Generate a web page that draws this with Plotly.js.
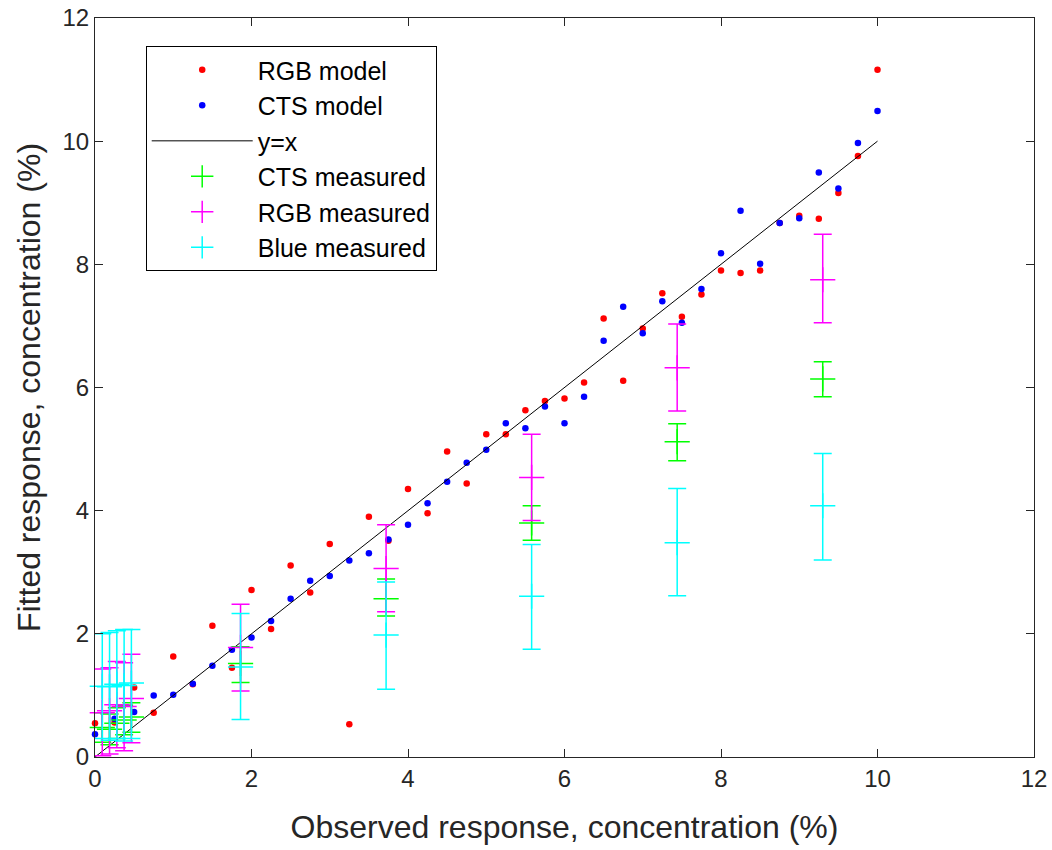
<!DOCTYPE html>
<html>
<head>
<meta charset="utf-8">
<script src="https://cdn.plot.ly/plotly-3.0.1.min.js"></script>
<style>
  html, body { margin: 0; padding: 0; background: #ffffff; }
  #chart { width: 1052px; height: 850px; }
</style>
</head>
<body>
<div id="chart"></div>
<script>
// Observed concentrations for the model points
var observedModel = [0, 0.25, 0.5, 0.75, 1, 1.25, 1.5, 1.75, 2, 2.25, 2.5, 2.75, 3, 3.25, 3.5, 3.75,
  4, 4.25, 4.5, 4.75, 5, 5.25, 5.5, 5.75, 6, 6.25, 6.5, 6.75, 7, 7.25, 7.5, 7.75,
  8, 8.25, 8.5, 8.75, 9, 9.25, 9.5, 9.75, 10];
var rgbModel = [0.55, 0.56, 1.13, 0.72, 1.63, 1.18, 2.13, 1.45, 2.71, 2.08, 3.11, 2.67, 3.46, 0.53, 3.90, 3.51,
  4.35, 3.96, 4.96, 4.44, 5.24, 5.24, 5.63, 5.78, 5.82, 6.08, 7.12, 6.11, 6.96, 7.53, 7.15, 7.51,
  7.90, 7.86, 7.90, 8.67, 8.79, 8.74, 9.16, 9.76, 11.16];
var ctsModel = [0.37, 0.62, 0.73, 1.00, 1.01, 1.19, 1.48, 1.74, 1.94, 2.21, 2.57, 2.86, 2.94, 3.19, 3.31, 3.53,
  3.77, 4.12, 4.47, 4.78, 4.99, 5.42, 5.34, 5.69, 5.42, 5.85, 6.76, 7.31, 6.88, 7.40, 7.05, 7.60,
  8.18, 8.87, 8.01, 8.67, 8.75, 9.49, 9.23, 9.97, 10.49];

// Identity line
var identityX = [0, 10];
var identityY = [0, 10];

// Measured samples
var observedMeasured = [0.093, 0.186, 0.279, 0.372, 0.465, 1.86, 3.72, 5.58, 7.44, 9.3];
var ctsMeasured      = [0.48, 0.45, 0.55, 0.60, 0.65, 1.52, 2.57, 3.80, 5.12, 6.14];
var ctsMeasuredHigh  = [0.72, 0.70, 0.80, 0.84, 0.88, 1.79, 2.89, 4.08, 5.41, 6.42];
var ctsMeasuredLow   = [0.24, 0.20, 0.30, 0.36, 0.40, 1.21, 2.29, 3.52, 4.81, 5.85];
var rgbMeasured      = [0.72, 0.75, 0.85, 0.82, 0.95, 1.78, 3.06, 4.54, 6.32, 7.75];
var rgbMeasuredHigh  = [1.43, 1.45, 1.55, 1.53, 1.67, 2.48, 3.77, 5.24, 7.03, 8.49];
var rgbMeasuredLow   = [0.02, 0.05, 0.15, 0.10, 0.23, 1.07, 2.36, 3.84, 5.62, 7.05];
var blueMeasured     = [1.15, 1.14, 1.18, 1.16, 1.20, 1.46, 1.98, 2.61, 3.48, 4.08];
var blueMeasuredHigh = [2.00, 2.02, 2.05, 2.07, 2.07, 2.33, 2.84, 3.45, 4.36, 4.93];
var blueMeasuredLow  = [0.30, 0.27, 0.30, 0.26, 0.30, 0.61, 1.10, 1.75, 2.62, 3.20];

var xTicks = [0, 2, 4, 6, 8, 10, 12];
var yTicks = [0, 2, 4, 6, 8, 10, 12];

function diff(a, b) { return a.map(function (v, i) { return +(v - b[i]).toFixed(4); }); }

var FONT = '"Liberation Sans", Arial, Helvetica, sans-serif';
var AX = '#262626';

function crossMarker(color) {
  return { symbol: 'cross-thin-open', size: 18, color: color, line: { color: color, width: 1.5 } };
}

function measuredTrace(name, y, hi, lo, color) {
  return {
    type: 'scatter', mode: 'markers', name: name, showlegend: false,
    x: observedMeasured, y: y,
    marker: crossMarker(color),
    error_y: { type: 'data', symmetric: false, array: diff(hi, y), arrayminus: diff(y, lo),
      color: color, thickness: 1.5, width: 9 },
    cliponaxis: false
  };
}

// legend-only entries (plain "+" symbol, as in the reference legend)
function legendEntry(name, color, group) {
  return { type: 'scatter', mode: 'markers', name: name, x: [null], y: [null],
    legendgroup: group, marker: crossMarker(color), hoverinfo: 'skip' };
}

var traces = [
  { type: 'scatter', mode: 'markers', name: 'RGB model', x: observedModel, y: rgbModel, legendgroup: 'a',
    marker: { color: '#ff0000', size: 6.5 }, cliponaxis: false },
  { type: 'scatter', mode: 'markers', name: 'CTS model', x: observedModel, y: ctsModel, legendgroup: 'b',
    marker: { color: '#0000ff', size: 6.5 }, cliponaxis: false },
  { type: 'scatter', mode: 'lines', name: 'y=x', x: identityX, y: identityY, legendgroup: 'c',
    line: { color: '#000000', width: 1 } },
  measuredTrace('CTS measured', ctsMeasured, ctsMeasuredHigh, ctsMeasuredLow, '#00ff00'),
  measuredTrace('RGB measured', rgbMeasured, rgbMeasuredHigh, rgbMeasuredLow, '#ff00ff'),
  measuredTrace('Blue measured', blueMeasured, blueMeasuredHigh, blueMeasuredLow, '#00ffff'),
  legendEntry('CTS measured', '#00ff00', 'd'),
  legendEntry('RGB measured', '#ff00ff', 'e'),
  legendEntry('Blue measured', '#00ffff', 'f')
];

var axisCommon = {
  range: [0, 12], showgrid: false, zeroline: false,
  showline: true, linecolor: AX, linewidth: 1, mirror: 'ticks',
  ticks: 'inside', ticklen: 8, tickwidth: 1, tickcolor: AX,
  tickfont: { family: FONT, size: 24, color: AX }
};

var layout = {
  width: 1052, height: 850,
  margin: { l: 95, r: 18, t: 18, b: 93 },
  paper_bgcolor: '#ffffff', plot_bgcolor: '#ffffff',
  font: { family: FONT, color: AX },
  showlegend: true,
  xaxis: Object.assign({}, axisCommon, {
    tickvals: xTicks, ticktext: xTicks.map(String),
    title: { text: 'Observed response, concentration (%)', font: { family: FONT, size: 32, color: AX }, standoff: 24 }
  }),
  yaxis: Object.assign({}, axisCommon, {
    tickvals: yTicks, ticktext: yTicks.map(String),
    title: { text: 'Fitted response, concentration (%)', font: { family: FONT, size: 32, color: AX }, standoff: 12 }
  }),
  legend: {
    x: 0.054, y: 0.962, xanchor: 'left', yanchor: 'top',
    bgcolor: '#ffffff', bordercolor: '#000000', borderwidth: 1,
    font: { family: FONT, size: 25, color: '#000000' },
    itemwidth: 101, tracegroupgap: 5, traceorder: 'normal'
  }
};

Plotly.newPlot('chart', traces, layout, { displayModeBar: false, staticPlot: true });
</script>
</body>
</html>
